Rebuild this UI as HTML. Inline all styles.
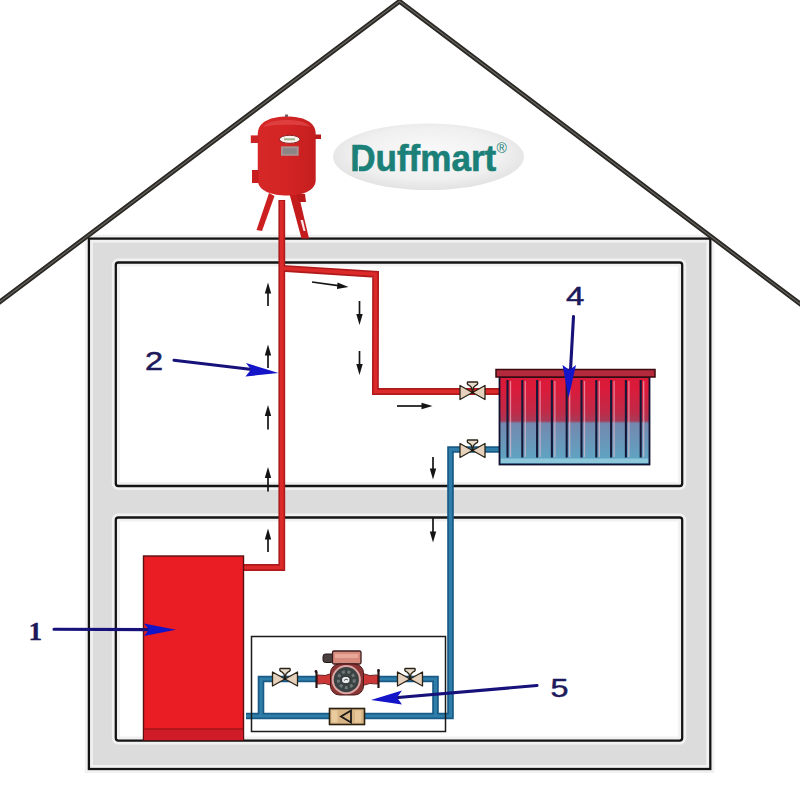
<!DOCTYPE html>
<html><head><meta charset="utf-8"><style>
html,body{margin:0;padding:0;background:#fff;width:800px;height:800px;overflow:hidden}
svg{display:block}
text{font-family:"Liberation Sans",sans-serif}
</style></head><body>
<svg width="800" height="800" viewBox="0 0 800 800">
<defs>
  <linearGradient id="radg" x1="0" y1="0" x2="0" y2="1">
    <stop offset="0" stop-color="#d81a38"/>
    <stop offset="0.12" stop-color="#dc1a3a"/>
    <stop offset="0.4" stop-color="#c02a48"/>
    <stop offset="0.5" stop-color="#a83a58"/>
    <stop offset="0.53" stop-color="#7488ae"/>
    <stop offset="1" stop-color="#5ca8c6"/>
  </linearGradient>
  <radialGradient id="logog" cx="0.5" cy="0.45" r="0.55">
    <stop offset="0" stop-color="#fafafa"/>
    <stop offset="0.7" stop-color="#f0f0f0"/>
    <stop offset="0.92" stop-color="#e6e6e6"/>
    <stop offset="1" stop-color="#e2e2e2"/>
  </radialGradient>
  <linearGradient id="tankg" x1="0" y1="0" x2="1" y2="0">
    <stop offset="0" stop-color="#d62828"/>
    <stop offset="0.5" stop-color="#d42424"/>
    <stop offset="1" stop-color="#c41e1e"/>
  </linearGradient>
</defs>

<!-- house walls grey -->
<path d="M88.9,238.6 H710.3 V769 H88.9 Z M115.8,262.5 V486 H682.2 V262.5 Z M115.8,517.5 V740.6 H682.2 V517.5 Z" fill="#dcdcdc" fill-rule="evenodd"/>
<g fill="none" stroke="#f1f1f1" stroke-width="8">
<rect x="88.9" y="238.6" width="621.4" height="530.4"/>
<rect x="115.8" y="262.5" width="566.4" height="223.5" rx="2.5"/>
<rect x="115.8" y="517.5" width="566.4" height="223.1" rx="2.5"/>
</g>
<g fill="none" stroke="#141414" stroke-width="2.3">
<rect x="88.9" y="238.6" width="621.4" height="530.4"/>
<rect x="115.8" y="262.5" width="566.4" height="223.5" rx="2.5"/>
<rect x="115.8" y="517.5" width="566.4" height="223.1" rx="2.5"/>
</g>

<!-- roof -->
<polyline points="-2,303.3 399.5,1.3 802,305.3" fill="none" stroke="#2a2824" stroke-width="4.7" stroke-miterlimit="20"/>
<polyline points="-2,303.3 399.5,1.3 802,305.3" fill="none" stroke="#6a6660" stroke-width="1.1" stroke-miterlimit="20"/>

<!-- logo -->
<ellipse cx="428.5" cy="156.8" rx="95.5" ry="33.3" fill="url(#logog)"/>
<text x="350.2" y="170.9" font-size="36.3" font-weight="bold" fill="#1a8078" stroke="#1a8078" stroke-width="0.6" textLength="146" lengthAdjust="spacingAndGlyphs">Duffmart</text>
<line x1="358.4" y1="154" x2="358.4" y2="172" stroke="#f2f2f2" stroke-width="1.1"/>
<text x="496.5" y="153" font-size="14" fill="#1a8078">®</text>

<!-- expansion tank legs -->
<path d="M269,193 L256.5,230 L262,231 L274.5,196 Z" fill="#cc2020"/>
<path d="M289.5,194 L301.5,238.5 L309,238.5 L298.5,194 Z" fill="#c41c1c"/>
<path d="M300.5,220 L303.5,231 L305.5,231 L303,220 Z" fill="#f4e8e8"/>
<path d="M296,193 L305,194 L306,202 L299,202 Z" fill="#b81a1a"/>
<!-- tank -->
<path d="M257.75,134 C257.75,121 272,116.5 287,116.5 C302,116.5 315.7,121 315.7,134 V180 C315.7,191 302,195.5 287,195.5 C272,195.5 257.75,191 257.75,180 Z" fill="url(#tankg)"/>
<path d="M263,127 C268,121 278,120 287,120 C296,120 306,121 311,127 C302,124 272,124 263,127 Z" fill="#e65050" opacity="0.6"/>
<rect x="285" y="114.5" width="3" height="2.5" fill="#7a5a5a"/>
<rect x="250.8" y="135.4" width="8" height="7.6" fill="#cc2424"/>
<rect x="315" y="134.5" width="6" height="4.5" fill="#b81c1c"/>
<rect x="252" y="170" width="6.5" height="13" fill="#c81e1e"/>
<ellipse cx="289.7" cy="139.3" rx="10.3" ry="4" fill="#fbf4ee" stroke="#8a2020" stroke-width="1"/>
<rect x="284" y="138.3" width="11" height="2" fill="#7a9a6a" opacity="0.7"/>
<rect x="281" y="146.3" width="17.7" height="9.5" fill="#a89090"/>
<rect x="283" y="148.3" width="13.7" height="5.5" fill="#8a8484"/>

<!-- red pipes -->
<g fill="none" stroke="#b01a1a" stroke-width="6.8" stroke-linejoin="miter">
  <polyline points="281.8,200 281.8,567.5 243,567.5"/>
  <polyline points="281.8,268.3 375.6,274.3 375.4,391.5 499,391.5"/>
</g>
<g fill="none" stroke="#dc2a2a" stroke-width="3.6" stroke-linejoin="miter">
  <polyline points="281.8,201 281.8,567.5 243,567.5"/>
  <polyline points="281.8,268.3 375.6,274.3 375.4,391.5 499,391.5"/>
</g>

<!-- blue pipes -->
<g fill="none" stroke="#1a5a86" stroke-width="6.6" stroke-linejoin="miter">
  <polyline points="499,449.5 450.5,449.5 450.5,716 246,716"/>
  <polyline points="261,716 261,679 435.5,679 435.5,716"/>
</g>
<g fill="none" stroke="#2f7eaa" stroke-width="3.2" stroke-linejoin="miter">
  <polyline points="499,449.5 450.5,449.5 450.5,716 246,716"/>
  <polyline points="261,716 261,679 435.5,679 435.5,716"/>
</g>

<!-- boiler -->
<rect x="143.5" y="556" width="100" height="184" fill="#ea1c24" stroke="#5a1010" stroke-width="1.4"/>
<rect x="144" y="729" width="99" height="11" fill="#d01c28"/>
<line x1="144" y1="729" x2="243" y2="729" stroke="#8a1010" stroke-width="1.2"/>

<!-- radiator -->
<rect x="499.5" y="377" width="150" height="87.5" fill="url(#radg)"/>
<rect x="500.5" y="458.5" width="148" height="4.5" fill="#98d0e0" opacity="0.8"/>
<g stroke="#f4c0d0" stroke-width="1.3" opacity="0.6"><line x1="510.5" y1="381" x2="510.5" y2="457"/><line x1="525.3" y1="381" x2="525.3" y2="457"/><line x1="540.1" y1="381" x2="540.1" y2="457"/><line x1="554.9" y1="381" x2="554.9" y2="457"/><line x1="569.7" y1="381" x2="569.7" y2="457"/><line x1="584.5" y1="381" x2="584.5" y2="457"/><line x1="599.3" y1="381" x2="599.3" y2="457"/><line x1="614.1" y1="381" x2="614.1" y2="457"/><line x1="628.9" y1="381" x2="628.9" y2="457"/><line x1="643.7" y1="381" x2="643.7" y2="457"/></g>
<g stroke="#141838" stroke-width="2.1"><line x1="507.5" y1="380" x2="507.5" y2="457.5"/><line x1="522.3" y1="380" x2="522.3" y2="457.5"/><line x1="537.1" y1="380" x2="537.1" y2="457.5"/><line x1="551.9" y1="380" x2="551.9" y2="457.5"/><line x1="566.7" y1="380" x2="566.7" y2="457.5"/><line x1="581.5" y1="380" x2="581.5" y2="457.5"/><line x1="596.3" y1="380" x2="596.3" y2="457.5"/><line x1="611.1" y1="380" x2="611.1" y2="457.5"/><line x1="625.9" y1="380" x2="625.9" y2="457.5"/><line x1="640.7" y1="380" x2="640.7" y2="457.5"/></g>
<rect x="499.5" y="377" width="150" height="87.5" fill="none" stroke="#101030" stroke-width="1.8"/>
<rect x="496" y="369.5" width="159" height="7.5" fill="#b42a3c" stroke="#3a0a10" stroke-width="1.5"/>

<!-- valves -->
<g id="valve">
</g>
<g transform="translate(472.5,392.5)">
  <path d="M-12.5,-7 L0,0 L-12.5,7 Z M12.5,-7 L0,0 L12.5,7 Z" fill="#e6d2bc" stroke="#2a2418" stroke-width="1.3" stroke-linejoin="round"/>
  <path d="M-5,-10.5 Q-6,-8 -3,-7 L-1,-5 L0,0 L1,-5 L3,-7 Q6,-8 5,-10.5 Z" fill="#e8dccc" stroke="#2a2418" stroke-width="1.3" stroke-linejoin="round"/>
  <circle cx="0" cy="0" r="1.3" fill="#1a1410"/>
</g>
<g transform="translate(472.5,450.5)">
  <path d="M-12.5,-7 L0,0 L-12.5,7 Z M12.5,-7 L0,0 L12.5,7 Z" fill="#e6d2bc" stroke="#2a2418" stroke-width="1.3" stroke-linejoin="round"/>
  <path d="M-5,-10.5 Q-6,-8 -3,-7 L-1,-5 L0,0 L1,-5 L3,-7 Q6,-8 5,-10.5 Z" fill="#e8dccc" stroke="#2a2418" stroke-width="1.3" stroke-linejoin="round"/>
  <circle cx="0" cy="0" r="1.3" fill="#1a1410"/>
</g>
<g transform="translate(285,679)">
  <path d="M-12.5,-7 L0,0 L-12.5,7 Z M12.5,-7 L0,0 L12.5,7 Z" fill="#e6d2bc" stroke="#2a2418" stroke-width="1.3" stroke-linejoin="round"/>
  <path d="M-5,-10.5 Q-6,-8 -3,-7 L-1,-5 L0,0 L1,-5 L3,-7 Q6,-8 5,-10.5 Z" fill="#e8dccc" stroke="#2a2418" stroke-width="1.3" stroke-linejoin="round"/>
  <circle cx="0" cy="0" r="1.3" fill="#1a1410"/>
</g>
<g transform="translate(410,679)">
  <path d="M-12.5,-7 L0,0 L-12.5,7 Z M12.5,-7 L0,0 L12.5,7 Z" fill="#e6d2bc" stroke="#2a2418" stroke-width="1.3" stroke-linejoin="round"/>
  <path d="M-5,-10.5 Q-6,-8 -3,-7 L-1,-5 L0,0 L1,-5 L3,-7 Q6,-8 5,-10.5 Z" fill="#e8dccc" stroke="#2a2418" stroke-width="1.3" stroke-linejoin="round"/>
  <circle cx="0" cy="0" r="1.3" fill="#1a1410"/>
</g>

<!-- pump box -->
<rect x="251.5" y="636.5" width="194" height="95" fill="none" stroke="#1a1a1a" stroke-width="1.5"/>
<!-- check valve -->
<rect x="329.5" y="708.5" width="35" height="16" fill="#d9b484" stroke="#2a2010" stroke-width="1.6"/>
<rect x="331.5" y="710.5" width="6" height="12" fill="#e8cca0"/>
<rect x="355" y="710.5" width="6" height="12" fill="#e6c89a"/>
<path d="M351,710.5 L341,716.5 L351,722.5 Z" fill="none" stroke="#1a1a1a" stroke-width="1.8" stroke-linejoin="miter"/>

<!-- pump -->
<path d="M316.5,672 V688 M378.5,671 V688" stroke="#241616" stroke-width="2.2"/>
<circle cx="316" cy="671.5" r="1.4" fill="#241616"/>
<circle cx="378.5" cy="670.5" r="1.4" fill="#241616"/>
<path d="M317.5,675 Q325,677 333,673 V686 Q325,682 317.5,684 Z" fill="#cc3838" stroke="#6a1a1a" stroke-width="1"/>
<path d="M377.5,675 Q370,677 361,673 V686 Q370,682 377.5,684 Z" fill="#cc3838" stroke="#6a1a1a" stroke-width="1"/>
<rect x="323" y="654" width="11" height="8.5" rx="2.5" fill="#4a4040" stroke="#221818" stroke-width="1"/>
<rect x="332.5" y="651" width="28.5" height="13" rx="1.5" fill="#d88a7c" stroke="#3a1c1c" stroke-width="1.3"/>
<rect x="335" y="654" width="23" height="4" fill="#e8a898"/>
<rect x="330.5" y="664" width="33" height="31" rx="9" fill="#8a3434" stroke="#4a1818" stroke-width="1"/>
<circle cx="346.3" cy="679.7" r="14.6" fill="#dca4a4"/>
<circle cx="346.3" cy="679.7" r="12.6" fill="#3a4242"/>
<circle cx="346.3" cy="679.7" r="8" fill="none" stroke="#7a8484" stroke-width="3" stroke-dasharray="3 2.5" opacity="0.8"/>
<ellipse cx="345.8" cy="680" rx="4.2" ry="3.6" fill="#e8ecec" stroke="#222" stroke-width="0.8"/>
<path d="M344,680.5 Q346,678 348,680" fill="none" stroke="#333" stroke-width="0.8"/>

<!-- small black arrows -->
<g stroke="#141414" stroke-width="1.7" fill="#141414">
<line x1="268" y1="290.5" x2="268" y2="306"/><path d="M268,282.5 L264.8,293.5 L271.2,293.5 Z" stroke="none"/>
<line x1="268" y1="352.5" x2="268" y2="368"/><path d="M268,344.5 L264.8,355.5 L271.2,355.5 Z" stroke="none"/>
<line x1="268" y1="413" x2="268" y2="429.5"/><path d="M268,405 L264.8,416 L271.2,416 Z" stroke="none"/>
<line x1="268" y1="475" x2="268" y2="491.5"/><path d="M268,467 L264.8,478 L271.2,478 Z" stroke="none"/>
<line x1="268" y1="536.5" x2="268" y2="552"/><path d="M268,528.5 L264.8,539.5 L271.2,539.5 Z" stroke="none"/>
<line x1="359.5" y1="301" x2="359.5" y2="317"/><path d="M359.5,325 L356.3,314 L362.7,314 Z" stroke="none"/>
<line x1="359.5" y1="351" x2="359.5" y2="367"/><path d="M359.5,375 L356.3,364 L362.7,364 Z" stroke="none"/>
<line x1="433" y1="457" x2="433" y2="471.5"/><path d="M433,479.5 L429.8,468.5 L436.2,468.5 Z" stroke="none"/>
<line x1="433" y1="518" x2="433" y2="534.5"/><path d="M433,542.5 L429.8,531.5 L436.2,531.5 Z" stroke="none"/>
<line x1="312" y1="282" x2="340" y2="285.8"/><path d="M348.5,287 L337.5,282.6 L337,289 Z" stroke="none"/>
<line x1="397" y1="406" x2="424" y2="406"/><path d="M432.5,406 L421.5,402.8 L421.5,409.2 Z" stroke="none"/>
</g>

<!-- blue label arrows -->
<g stroke="#16127a" stroke-width="3.1" stroke-linecap="round" fill="#1414c8">
  <line x1="174" y1="360.3" x2="252" y2="369.5"/>
  <path d="M278.5,373 L246,363 L251,369.5 L245.5,376.5 Z" stroke="none"/>
  <line x1="54" y1="629.3" x2="150" y2="629.6"/>
  <path d="M176,629.8 L144,623.5 L149,629.6 L144,636 Z" stroke="none"/>
  <line x1="573.5" y1="316.5" x2="570.5" y2="370"/>
  <path d="M568.5,398 L562.5,365 L569.5,370 L576,365 Z" stroke="none"/>
  <line x1="537" y1="685.5" x2="398" y2="697.5"/>
  <path d="M371,700 L402,690.5 L397,697.5 L402,704.5 Z" stroke="none"/>
</g>

<!-- numbers -->
<g font-size="25" fill="#1c1a5a" stroke="#1c1a5a" stroke-width="0.5">
  <text transform="translate(145,370) scale(1.3,1)">2</text>
  <text transform="translate(28.5,640) scale(1.05,1)" style="font-family:'Liberation Serif',serif;font-weight:bold" font-size="26" stroke-width="0.3">1</text>
  <text transform="translate(566,305) scale(1.32,1)">4</text>
  <text transform="translate(550.5,696.5) scale(1.22,1)" font-size="26.5">5</text>
</g>
</svg>
</body></html>
